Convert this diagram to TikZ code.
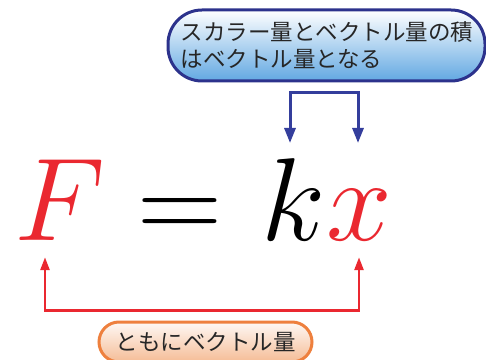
\documentclass[tikz,border=0pt]{standalone}
\usepackage{fix-cm}
\usepackage{fontspec}
\newfontfamily\jpfont{Noto Sans CJK JP}
\usepackage{xcolor}
\usetikzlibrary{arrows.meta,calc,positioning,shadings}
\definecolor{notenavy}{RGB}{44,50,140}
\definecolor{noteblue}{RGB}{98,168,226}
\definecolor{arrowblue}{RGB}{52,62,156}
\definecolor{eqred}{RGB}{234,40,48}
\definecolor{tagorange}{RGB}{238,128,62}
\definecolor{tagpeach}{RGB}{245,188,150}
\definecolor{textgray}{RGB}{38,38,38}

\begin{document}
\begin{tikzpicture}[
  x=1pt, y=1pt,
  every node/.style={font=\jpfont, text=textgray},
  sym/.style={inner sep=0pt, anchor=base, font=\fontsize{118}{120}\selectfont},
  blue arrow/.style={{Triangle[length=15pt,width=11pt]}-{Triangle[length=15pt,width=11pt]},
    line width=3pt, arrowblue},
  red arrow/.style={{Triangle[length=13pt,width=9pt]}-{Triangle[length=13pt,width=9pt]},
    line width=2.6pt, eqred},
]

%% Page frame
\useasboundingbox (0,0) rectangle (486,359);
\clip (0,0) rectangle (486,359);

%% Equation, one node per symbol
\node[sym, text=eqred] (F) at (60,119) {$F$};
\node[sym, text=black] (eq) at (180,119) {$=$};
\node[sym, text=black] (k) at (294,119) {$k$};
\node[sym, text=eqred] (x) at (359,119) {$x$};

%% Speech box on top
\node[draw=notenavy, line width=3pt, rounded corners=34pt,
      top color=white, bottom color=noteblue,
      minimum width=317pt, minimum height=71pt,
      text width=292pt, align=left, font=\jpfont\fontsize{22.5}{27}\selectfont]
  (scalar) at (326.5,313.5)
  {スカラー量とベクトル量の積\\はベクトル量となる};

%% Tag at the bottom
\node[draw=tagorange, line width=3pt, rounded corners=20pt,
      top color=white!90!tagpeach, bottom color=tagpeach,
      minimum width=213pt, minimum height=40pt,
      font=\jpfont\fontsize{22.5}{26}\selectfont]
  (both) at (205.5,17)
  {ともにベクトル量};

%% ---- Connectors ----

% blue bracket: k and x
\coordinate (kTip) at (290,216);
\coordinate (xTip) at (358,216);
\draw[blue arrow] (kTip) -- ++(0,50) -| (xTip);

% red bracket: F and x
\coordinate (FTip) at ($(F.south)+(-15,-17)$);
\coordinate (xLow) at ($(x.south)+(0,-17)$);
\draw[red arrow] (FTip) -- ++(0,-53) -| (xLow);

\end{tikzpicture}
\end{document}
